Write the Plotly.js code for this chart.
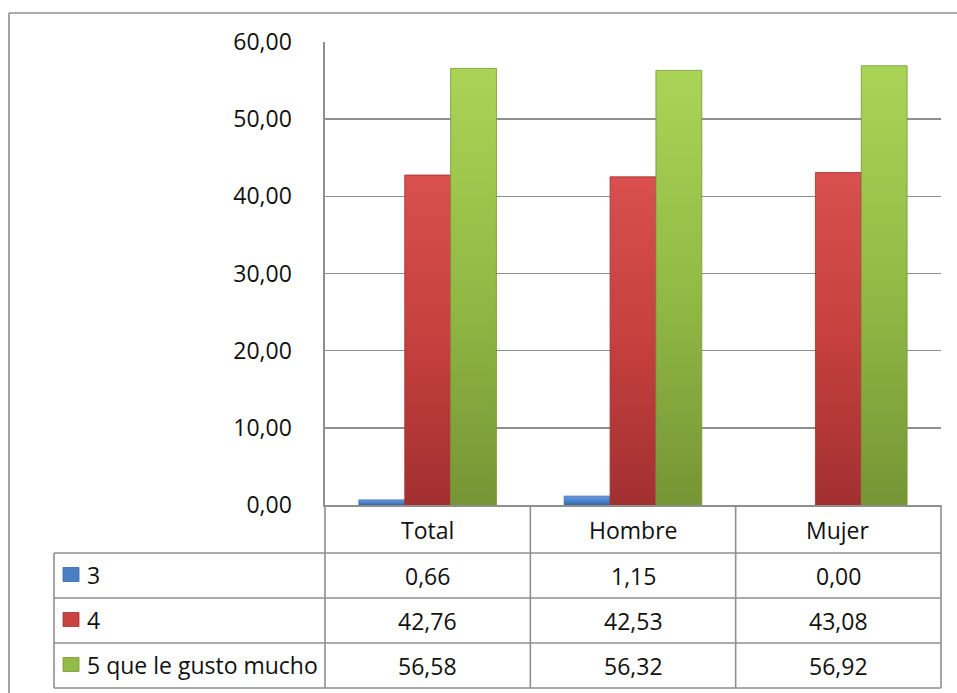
<!DOCTYPE html>
<html>
<head>
<meta charset="utf-8">
<script src="https://cdn.plot.ly/plotly-3.0.1.min.js"></script>
<style>
  html, body { margin: 0; padding: 0; background: #ffffff; }
  #chart { width: 957px; height: 693px; }
</style>
</head>
<body>
<div id="chart"></div>
<script>
// Survey results (%) by group
const categories = ['Total', 'Hombre', 'Mujer'];
const seriesNames = ['3', '4', '5 que le gusto mucho'];
const values3 = [0.66, 1.15, 0.00];
const values4 = [42.76, 42.53, 43.08];
const values5 = [56.58, 56.32, 56.92];
const yTicks = [0, 10, 20, 30, 40, 50, 60];

const seriesValues = [values3, values4, values5];
const seriesColors = ['#4a7fc4', '#c94341', '#93bb47'];
const seriesGrad = [
  ['#6a9ee6', '#4d84cf', '#3967a8'],
  ['#d9504e', '#c5403e', '#a23030'],
  ['#aad456', '#93ba46', '#769535']
];
const lineCol = '#8f8f8f';
const FONT = '"Open Sans", "DejaVu Sans", sans-serif';

// plot-area geometry (pixels)
const W = 957, H = 693;
const L = 325, R = 941, T = 42, B = 505;
const px = v => (v - L) / (R - L);
const py = v => (B - v) / (B - T);

// data table geometry below the axis
const headerBottom = 553;
const rowH = 45;
const labelLeft = 54;

const fmt = v => v.toFixed(2).replace('.', ',');

const traces = seriesNames.map((name, i) => ({
  type: 'bar',
  name: name,
  x: categories,
  y: seriesValues[i],
  marker: {
    color: seriesColors[i],
    line: { color: seriesGrad[i][2], width: seriesValues[i].map(v => (v > 0 ? 0.8 : 0)) }
  },
  hoverinfo: 'x+y+name',
  showlegend: false
}));

const shapes = [];
const annotations = [];
const line = (x0, y0, x1, y1, w) => shapes.push({
  type: 'line', xref: 'paper', yref: 'paper',
  x0: x0, y0: y0, x1: x1, y1: y1,
  line: { color: lineCol, width: w || 1.6 }, layer: 'above'
});

// outer chart frame (top and left edges)
line(px(9), py(13), px(W + 5), py(13), 1.6);
line(px(9), py(13), px(9), py(H + 5), 1.6);

// table horizontal rules
const nRows = seriesNames.length;
for (let r = 0; r <= nRows; r++) {
  const yy = headerBottom + r * rowH;
  line(px(labelLeft), py(yy), 1, py(yy));
}
// table vertical rules
const tableBottom = headerBottom + nRows * rowH;
line(px(labelLeft), py(headerBottom), px(labelLeft), py(tableBottom));
for (let c = 0; c <= categories.length; c++) {
  const xx = c / categories.length;
  line(xx, 0, xx, py(tableBottom));
}

// header row: category names
categories.forEach((cat, c) => {
  annotations.push({
    xref: 'paper', yref: 'paper',
    x: (c + 0.5) / categories.length, y: py((B + headerBottom) / 2 + 1),
    text: cat, showarrow: false, xanchor: 'center', yanchor: 'middle',
    font: { family: FONT, size: 23, color: '#111111' }
  });
});

// data rows: legend key, series name and values
seriesNames.forEach((name, r) => {
  const yc = headerBottom + r * rowH + rowH / 2;
  shapes.push({
    type: 'rect', xref: 'paper', yref: 'paper',
    x0: px(63), x1: px(79), y0: py(yc - 8), y1: py(yc + 6),
    fillcolor: seriesColors[r], line: { color: seriesGrad[r][2], width: 0.8 },
    layer: 'above'
  });
  annotations.push({
    xref: 'paper', yref: 'paper',
    x: px(85), y: py(yc - 1),
    text: name, showarrow: false, xanchor: 'left', yanchor: 'middle',
    font: { family: FONT, size: 23, color: '#111111' }
  });
  categories.forEach((cat, c) => {
    annotations.push({
      xref: 'paper', yref: 'paper',
      x: (c + 0.5) / categories.length, y: py(yc),
      text: fmt(seriesValues[r][c]), showarrow: false, xanchor: 'center', yanchor: 'middle',
      font: { family: FONT, size: 23, color: '#111111' }
    });
  });
});

const layout = {
  width: W, height: H,
  margin: { l: L, r: W - R, t: T, b: H - B, pad: 0 },
  paper_bgcolor: '#ffffff',
  plot_bgcolor: '#ffffff',
  separators: ',.',
  barmode: 'group',
  bargap: 0.33,
  bargroupgap: 0,
  font: { family: FONT, size: 23, color: '#111111' },
  xaxis: {
    type: 'category',
    range: [-0.5, categories.length - 0.5],
    showticklabels: false,
    ticks: '',
    showgrid: false,
    showline: true, linecolor: lineCol, linewidth: 1.6,
    zeroline: false,
    fixedrange: true
  },
  yaxis: {
    range: [0, 60],
    tickvals: yTicks,
    tickformat: '.2f',
    ticks: '',
    ticklabelstandoff: 27,
    tickfont: { family: FONT, size: 23, color: '#111111' },
    showgrid: true, gridcolor: lineCol, gridwidth: 1.4,
    showline: true, linecolor: lineCol, linewidth: 1.6,
    zeroline: false,
    fixedrange: true
  },
  shapes: shapes,
  annotations: annotations,
  showlegend: false
};

const gd = document.getElementById('chart');
Plotly.newPlot(gd, traces, layout, { displayModeBar: false, staticPlot: true }).then(() => {
  // shaded fills for the bars (vertical gradient per series)
  const svgNS = 'http://www.w3.org/2000/svg';
  const defs = gd.querySelector('svg.main-svg defs');
  seriesGrad.forEach((stops, i) => {
    const g = document.createElementNS(svgNS, 'linearGradient');
    g.setAttribute('id', 'barShade' + i);
    g.setAttribute('x1', '0'); g.setAttribute('y1', '0');
    g.setAttribute('x2', '0'); g.setAttribute('y2', '1');
    [[0, stops[0]], [0.5, stops[1]], [1, stops[2]]].forEach(([o, c]) => {
      const s = document.createElementNS(svgNS, 'stop');
      s.setAttribute('offset', o);
      s.setAttribute('stop-color', c);
      g.appendChild(s);
    });
    defs.appendChild(g);
  });
  gd.querySelectorAll('.barlayer .trace').forEach((tr, i) => {
    tr.querySelectorAll('path').forEach(p => { p.style.fill = 'url(#barShade' + i + ')'; });
  });
});
</script>
</body>
</html>
